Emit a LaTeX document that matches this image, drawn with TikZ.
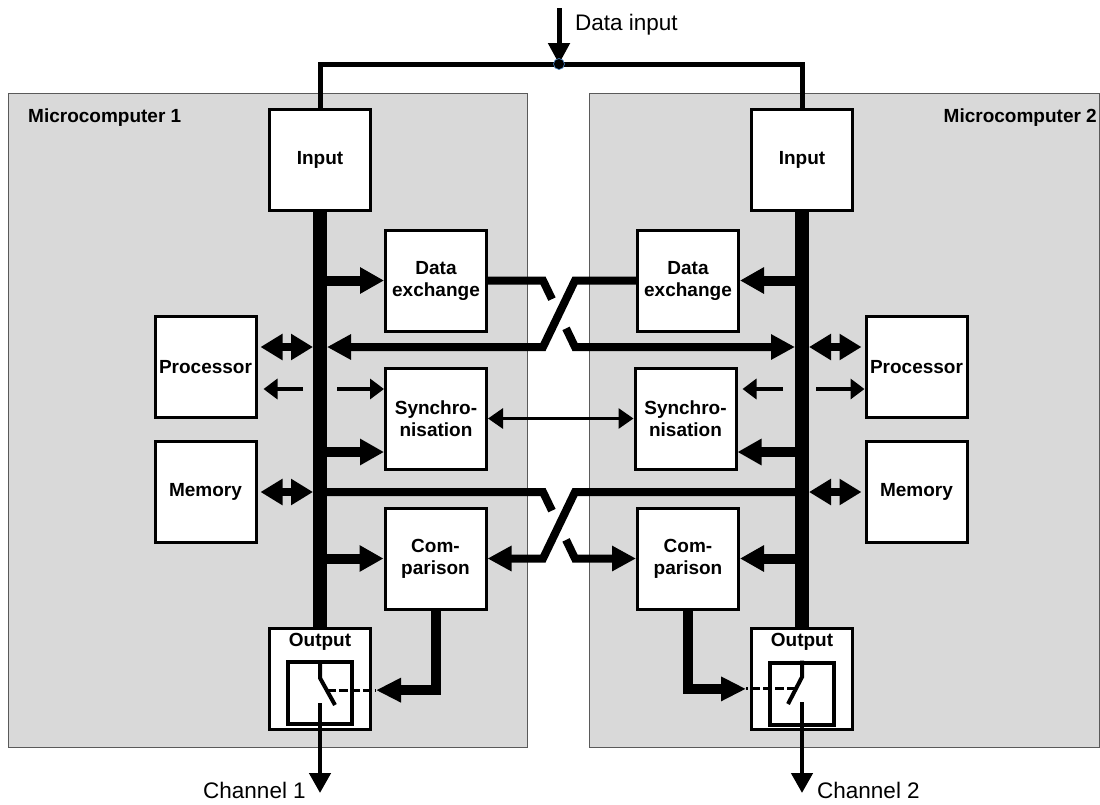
\documentclass[tikz,border=0pt]{standalone}
\usepackage{fontspec}
\setmainfont{Liberation Sans}
\usepackage{tikz}
\usetikzlibrary{
  arrows.meta,
  calc,
}
\definecolor{panelFill}{HTML}{D9D9D9}
\definecolor{panelEdge}{HTML}{5A5A5A}
\definecolor{dotRing}{HTML}{4A86C8}

\begin{document}
\begin{tikzpicture}[x=1pt, y=-1pt,
  modbox/.style={draw, line width=3pt, fill=white, inner sep=0pt,
    minimum width=101pt, minimum height=101pt, align=center,
    font=\fontsize{19}{22}\selectfont\bfseries},
  swbox/.style={draw, line width=4pt, fill=white,
    minimum width=64pt, minimum height=62pt},
  tag/.style={inner sep=0pt, font=\fontsize{19}{22}\selectfont\bfseries},
  caption/.style={inner sep=0pt, font=\fontsize{22.5}{26}\selectfont},
  bus/.style={line width=14pt},
  branch/.style={line width=10pt, -{Triangle[length=24pt,width=25pt]}},
  crossline/.style={line width=8pt},
  crossarrow/.style={line width=8pt, -{Triangle[length=24pt,width=24pt]}},
  duplex/.style={line width=8pt, shorten <=3pt,
    {Triangle[length=22pt,width=25pt]}-{Triangle[length=22pt,width=25pt]}},
  ctrl/.style={line width=3.5pt, -{Triangle[length=14pt,width=20pt]}},
  synclink/.style={line width=3pt,
    {Triangle[length=15pt,width=20pt]}-{Triangle[length=15pt,width=20pt]}},
  wire/.style={line width=5pt},
  feed/.style={line width=10pt, -{Triangle[length=25pt,width=23pt]}},
  outlet/.style={line width=4.5pt, -{Triangle[length=20pt,width=21pt]}},
  contact/.style={line width=4pt},
  linkage/.style={line width=3pt, dash pattern=on 9pt off 3pt},
]
\useasboundingbox (0,0) rectangle (1100,804);

% the two microcomputers
\filldraw[fill=panelFill, draw=panelEdge, line width=1pt] (8,93) rectangle (527,747);
\filldraw[fill=panelFill, draw=panelEdge, line width=1pt] (589,93) rectangle (1099.5,747);
\node[tag, anchor=base west] (mc1) at (28,122.5) {Microcomputer 1};
\node[tag, anchor=base east] (mc2) at (1097,122.5) {Microcomputer 2};

\foreach \nm/\x/\y/\txt in {%
  inL/320/160/Input,%
  deL/436/280.5/{Data\\exchange},%
  procL/205.5/367/Processor,%
  syncL/436/418.5/{Synchro-\\nisation},%
  memL/205.5/492/Memory,%
  cmpL/435.5/558.5/{Com-\\parison},%
  outL/320/678.5/{},%
  inR/802/160/Input,%
  deR/688/280.5/{Data\\exchange},%
  procR/916.5/367/Processor,%
  syncR/685.5/418.5/{Synchro-\\nisation},%
  memR/916.5/492/Memory,%
  cmpR/688/558.5/{Com-\\parison},%
  outR/802/678.5/{}%
}
{
  \node[modbox] (\nm) at (\x,\y) {\txt};
}
\node[tag] (outLt) at ([yshift=-15pt]outL.north) {Output};
\node[tag] (outRt) at ([yshift=-15pt]outR.north) {Output};
\node[swbox] (swL) at (320,693) {};
\node[swbox] (swR) at (802,693.5) {};

% data input
\coordinate (src) at (559,8);
\coordinate (join) at (559,64);
\draw[wire] (inL.north) |- (join) -| (inR.north);
\draw[wire, -{Triangle[length=21pt,width=21pt]}] (src) -- (join);
\filldraw[fill=black, draw=dotRing, line width=0.6pt] (join) circle[radius=5.5pt];
\node[caption, anchor=base west] (lblIn) at (575,30) {Data input};

% buses
\coordinate (bL) at (320,0);
\coordinate (bLw) at (313,0);
\coordinate (bLe) at (327,0);
\coordinate (bR) at (802,0);
\coordinate (bRw) at (795,0);
\coordinate (bRe) at (809,0);
\draw[bus] (inL.south) -- (outL.north);
\draw[bus] (inR.south) -- (outR.north);

% left side taps
\draw[branch] (deL.west -| bL) -- (deL.west);
\draw[duplex] ([yshift=20pt]procL.east) -- ([yshift=20pt]procL.east -| bLw);
\draw[ctrl] ([xshift=-10pt,yshift=-22pt]procL.east -| bLw) -- ([xshift=6pt,yshift=-22pt]procL.east);
\draw[ctrl] ([xshift=10pt,yshift=-22pt]procL.east -| bLe) -- ([yshift=-22pt]procL.east -| syncL.west);
\draw[branch] ([yshift=-33.5pt]syncL.west -| bL) -- ([yshift=-33.5pt]syncL.west);
\draw[duplex] (memL.east) -- (memL.east -| bLw);
\draw[branch] (cmpL.west -| bL) -- (cmpL.west);

% right side taps
\draw[branch] (deR.east -| bR) -- (deR.east);
\draw[duplex] ([yshift=20pt]procR.west) -- ([yshift=20pt]procR.west -| bRe);
\draw[ctrl] ([xshift=-12pt,yshift=-22pt]procR.west -| bRw) -- ([xshift=5pt,yshift=-22pt]procR.west -| syncR.east);
\draw[ctrl] ([xshift=7pt,yshift=-22pt]procR.west -| bRe) -- ([yshift=-22pt]procR.west);
\draw[branch] ([yshift=-33.5pt]syncR.east -| bR) -- ([yshift=-33.5pt]syncR.east);
\draw[duplex] (memR.west) -- (memR.west -| bRe);
\draw[branch] (cmpR.east -| bR) -- (cmpR.east);

% synchronisation link
\draw[synclink] (syncL.east) -- (syncR.west);

% data exchange crossing
\coordinate (xA) at (543,280.5);
\coordinate (xB) at (575,280.5);
\coordinate (xC) at (543,347);
\coordinate (xD) at (575,347);
\draw[crossline] (deL.east) -- (xA) -- ($(xA)!0.28!(xD)$);
\draw[crossarrow] ($(xA)!0.72!(xD)$) -- (xD) -- (xD -| bRw);
\draw[crossarrow] (deR.west) -- (xB) -- (xC) -- (xC -| bLe);

% comparison crossing
\coordinate (xE) at (543,492);
\coordinate (xF) at (575,492);
\coordinate (xG) at (543,558.5);
\coordinate (xH) at (575,558.5);
\draw[crossline] (memL.east -| bL) -- (xE) -- ($(xE)!0.28!(xH)$);
\draw[crossarrow] ($(xE)!0.72!(xH)$) -- (xH) -- (cmpR.west);
\draw[crossarrow] (memR.west -| bR) -- (xF) -- (xG) -- (cmpL.east);

% output switch, channel 1
\coordinate (sLb) at (320,678);
\coordinate (sLc) at (335,705);
\coordinate (sLd) at (320,703);
\coordinate (chL) at (320,793);
\coordinate (sLm) at ($(sLb)!0.45!(sLc)$);
\coordinate (actL) at ([xshift=4pt]sLm -| outL.east);
\draw[contact] (swL.north) -- (sLb) -- (sLc);
\draw[outlet] (sLd) -- (chL);
\draw[linkage] (sLm) -- (actL);
\draw[feed] (cmpL.south) |- (actL);
\node[caption, anchor=base east] (ch1) at ([xshift=-14pt,yshift=-5pt]chL) {Channel 1};

% output switch, channel 2
\coordinate (sRb) at (802,677);
\coordinate (sRc) at (788,704);
\coordinate (sRd) at (802,702);
\coordinate (chR) at (802,793);
\coordinate (sRm) at ($(sRb)!0.44!(sRc)$);
\coordinate (actR) at ([xshift=-4pt]sRm -| outR.west);
\draw[contact] (swR.north) -- (sRb) -- (sRc);
\draw[outlet] (sRd) -- (chR);
\draw[linkage] (sRm) -- (actR);
\draw[feed] (cmpR.south) |- (actR);
\node[caption, anchor=base west] (ch2) at ([xshift=15pt,yshift=-5pt]chR) {Channel 2};

\end{tikzpicture}
\end{document}
